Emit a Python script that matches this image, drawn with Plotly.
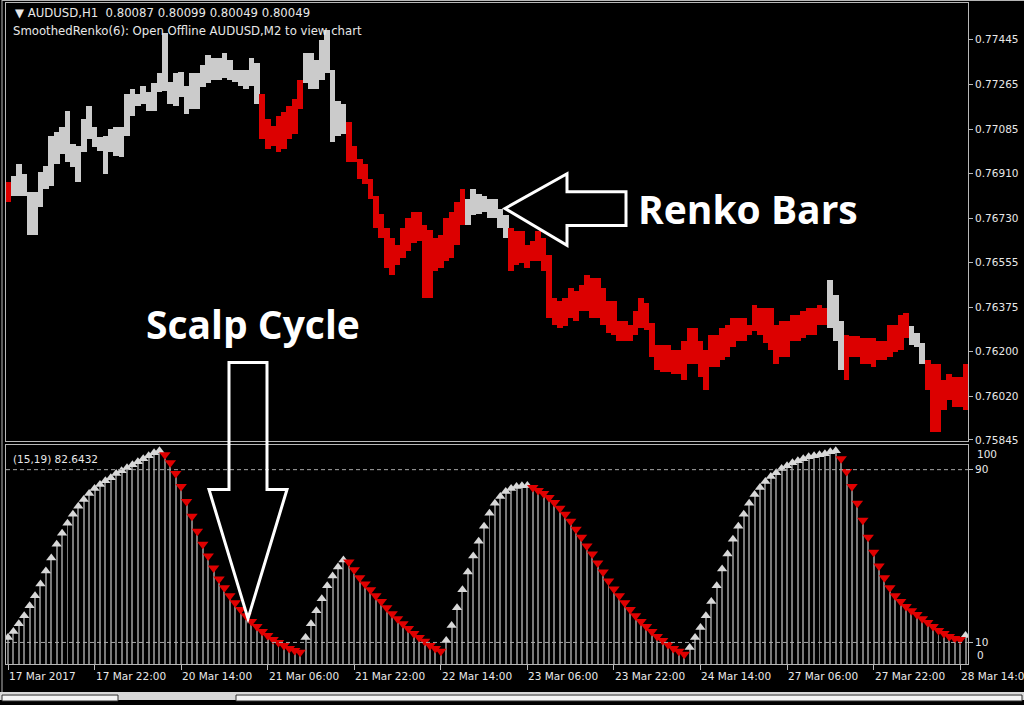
import plotly.graph_objects as go

W, H = 1024, 705

# ---------------- data ----------------
brick_high = [
    0.76878, 0.76901, 0.76949, 0.76909, 0.76838, 0.76838, 0.76917, 0.76941, 0.77060, 0.77076,
    0.77096, 0.77159, 0.77028, 0.77020, 0.77128, 0.77179, 0.77096, 0.77056, 0.77060, 0.77088,
    0.77096, 0.77096, 0.77227, 0.77247, 0.77227, 0.77259, 0.77235, 0.77274, 0.77314, 0.77473,
    0.77278, 0.77314, 0.77318, 0.77259, 0.77314, 0.77314, 0.77346, 0.77386, 0.77374, 0.77374,
    0.77394, 0.77366, 0.77326, 0.77326, 0.77326, 0.77374, 0.77354, 0.77227, 0.77128, 0.77100,
    0.77139, 0.77155, 0.77179, 0.77207, 0.77286, 0.77394, 0.77394, 0.77366, 0.77445, 0.77485,
    0.77326, 0.77199, 0.77187, 0.77116, 0.77020, 0.76969, 0.76949, 0.76889, 0.76822, 0.76750,
    0.76691, 0.76651, 0.76623, 0.76691, 0.76731, 0.76758, 0.76758, 0.76703, 0.76683, 0.76651,
    0.76663, 0.76731, 0.76758, 0.76798, 0.76850, 0.76810, 0.76850, 0.76830, 0.76822, 0.76810,
    0.76810, 0.76770, 0.76743, 0.76691, 0.76679, 0.76679, 0.76623, 0.76639, 0.76679, 0.76651,
    0.76584, 0.76413, 0.76401, 0.76413, 0.76453, 0.76441, 0.76465, 0.76504, 0.76492, 0.76492,
    0.76453, 0.76401, 0.76401, 0.76322, 0.76322, 0.76306, 0.76361, 0.76413, 0.76393, 0.76314,
    0.76226, 0.76226, 0.76226, 0.76203, 0.76203, 0.76242, 0.76294, 0.76294, 0.76242, 0.76203,
    0.76266, 0.76266, 0.76294, 0.76306, 0.76334, 0.76334, 0.76334, 0.76306, 0.76385, 0.76373,
    0.76373, 0.76373, 0.76306, 0.76322, 0.76322, 0.76346, 0.76346, 0.76361, 0.76373, 0.76373,
    0.76385, 0.76373, 0.76485, 0.76425, 0.76322, 0.76266, 0.76262, 0.76262, 0.76254, 0.76254,
    0.76254, 0.76242, 0.76242, 0.76306, 0.76306, 0.76346, 0.76353, 0.76302, 0.76274, 0.76234,
    0.76163, 0.76147, 0.76147, 0.76084, 0.76107, 0.76095, 0.76095, 0.76147,
]
brick_low = [
    0.76798, 0.76822, 0.76822, 0.76822, 0.76663, 0.76663, 0.76778, 0.76850, 0.76862, 0.76949,
    0.76989, 0.76957, 0.76937, 0.76878, 0.76997, 0.77048, 0.77016, 0.77001, 0.76909, 0.76997,
    0.76981, 0.76977, 0.77060, 0.77139, 0.77179, 0.77187, 0.77159, 0.77159, 0.77235, 0.77239,
    0.77187, 0.77179, 0.77215, 0.77147, 0.77167, 0.77167, 0.77255, 0.77274, 0.77286, 0.77286,
    0.77294, 0.77286, 0.77278, 0.77259, 0.77247, 0.77259, 0.77187, 0.77048, 0.77009, 0.77020,
    0.76997, 0.77009, 0.77048, 0.77068, 0.77167, 0.77274, 0.77247, 0.77247, 0.77286, 0.77314,
    0.77036, 0.77060, 0.77068, 0.76957, 0.76957, 0.76889, 0.76870, 0.76810, 0.76691, 0.76651,
    0.76532, 0.76504, 0.76544, 0.76572, 0.76600, 0.76631, 0.76639, 0.76413, 0.76413, 0.76520,
    0.76532, 0.76560, 0.76572, 0.76623, 0.76703, 0.76703, 0.76743, 0.76750, 0.76758, 0.76731,
    0.76731, 0.76691, 0.76651, 0.76520, 0.76544, 0.76552, 0.76532, 0.76560, 0.76560, 0.76520,
    0.76334, 0.76306, 0.76294, 0.76302, 0.76334, 0.76322, 0.76361, 0.76361, 0.76334, 0.76334,
    0.76306, 0.76274, 0.76266, 0.76242, 0.76242, 0.76242, 0.76266, 0.76294, 0.76286, 0.76175,
    0.76123, 0.76115, 0.76115, 0.76107, 0.76107, 0.76084, 0.76147, 0.76147, 0.76095, 0.76044,
    0.76135, 0.76135, 0.76163, 0.76175, 0.76215, 0.76242, 0.76242, 0.76266, 0.76282, 0.76266,
    0.76234, 0.76203, 0.76147, 0.76175, 0.76175, 0.76242, 0.76242, 0.76254, 0.76266, 0.76266,
    0.76306, 0.76306, 0.76294, 0.76242, 0.76123, 0.76084, 0.76175, 0.76175, 0.76147, 0.76147,
    0.76135, 0.76163, 0.76163, 0.76175, 0.76195, 0.76203, 0.76254, 0.76226, 0.76215, 0.76147,
    0.76044, 0.75877, 0.75877, 0.75964, 0.76004, 0.75976, 0.75976, 0.75964,
]
# trend of each brick column: G = up (grey), R = down (red), as runs
brick_runs = [("R", 1), ("G", 46), ("R", 8), ("G", 8), ("R", 22), ("G", 8),
              ("R", 59), ("G", 3), ("R", 12), ("G", 3), ("R", 8)]

scalp = [
    12.3, 15.1, 18.7, 22.4, 27.0, 31.6, 37.1, 43.1, 49.1, 55.5,
    60.6, 65.2, 69.3, 73.0, 76.2, 79.0, 81.3, 83.1, 84.9, 86.3,
    88.2, 89.5, 90.9, 92.3, 93.7, 95.1, 96.4, 97.8, 98.7, 96.9,
    93.2, 88.2, 82.2, 75.3, 68.4, 61.5, 55.5, 50.0, 44.5, 39.4,
    35.3, 31.6, 28.4, 25.2, 22.4, 19.7, 17.4, 15.1, 13.2, 11.4,
    10.0, 8.6, 7.2, 6.3, 5.4, 12.3, 18.7, 24.7, 30.2, 36.2,
    40.8, 44.9, 48.2, 47.2, 43.6, 39.9, 37.1, 34.4, 31.6, 28.9,
    26.1, 23.3, 21.0, 18.7, 16.4, 14.1, 12.3, 10.5, 8.6, 7.2,
    5.9, 10.9, 17.8, 26.1, 34.4, 42.6, 50.0, 56.9, 63.8, 69.8,
    74.4, 77.6, 79.9, 81.3, 82.2, 82.6, 82.7, 81.7, 80.3, 79.0,
    77.1, 74.8, 72.1, 69.3, 66.1, 62.4, 58.7, 54.6, 50.9, 46.8,
    42.6, 38.5, 34.8, 31.6, 28.4, 25.2, 22.4, 19.7, 17.4, 15.1,
    12.8, 10.9, 9.1, 7.2, 5.9, 4.5, 7.7, 12.3, 16.9, 22.4,
    28.9, 36.2, 44.0, 50.9, 57.8, 63.8, 69.3, 74.4, 78.5, 81.7,
    84.5, 86.8, 88.6, 90.5, 91.8, 93.2, 94.1, 95.1, 96.0, 96.4,
    96.9, 97.4, 98.3, 98.7, 95.1, 89.1, 82.2, 74.4, 66.6, 58.7,
    51.8, 45.4, 39.9, 35.3, 31.6, 28.9, 26.6, 24.7, 22.9, 21.0,
    19.2, 17.4, 15.5, 14.1, 12.8, 11.8, 11.4, 13.2,
]

price_ticks = [0.77445, 0.77265, 0.77085, 0.76910, 0.76730, 0.76555, 0.76375, 0.76200, 0.76020, 0.75845]
time_tick_idx = [0, 16, 32, 48, 64, 80, 96, 112, 128, 144, 160, 176]
time_tick_text = ["17 Mar 2017", "17 Mar 22:00", "20 Mar 14:00", "21 Mar 06:00", "21 Mar 22:00",
                  "22 Mar 14:00", "23 Mar 06:00", "23 Mar 22:00", "24 Mar 14:00", "27 Mar 06:00",
                  "27 Mar 22:00", "28 Mar 14:00"]
levels = [10, 90]

# ---------------- helpers ----------------
def px(x):
    return x / W

def py(y):
    return 1 - y / H

GREY = "#cbcbcb"
RED = "#dc0000"
FRAME = "#b8b8b8"
TXT = "#e8e8e8"
FONT = "DejaVu Sans"

n = len(brick_high)
xs = list(range(n))
brick_dir = []
for d, k in brick_runs:
    brick_dir += [d] * k
brick_col = [GREY if d == "G" else RED for d in brick_dir]

fig = go.Figure()

# Renko brick columns (top panel)
fig.add_trace(go.Bar(
    x=xs, y=[h - l for h, l in zip(brick_high, brick_low)], base=brick_low,
    width=1.06, marker=dict(color=brick_col, line=dict(width=0)),
    xaxis="x2", yaxis="y", hoverinfo="skip"))

# Oscillator histogram lines
fig.add_trace(go.Bar(
    x=xs, y=scalp, width=0.18, marker=dict(color="#7a7a7a", line=dict(width=0)),
    xaxis="x", yaxis="y2", hoverinfo="skip"))

up_x, up_y, dn_x, dn_y = [], [], [], []
for i, v in enumerate(scalp):
    if i == 0 or v > scalp[i - 1]:
        up_x.append(i); up_y.append(v)
    else:
        dn_x.append(i); dn_y.append(v)

fig.add_trace(go.Scatter(x=up_x, y=up_y, mode="markers", xaxis="x", yaxis="y2",
                         marker=dict(symbol="triangle-up", size=9, color="#d8d8d8",
                                     line=dict(width=0)), hoverinfo="skip"))
fig.add_trace(go.Scatter(x=dn_x, y=dn_y, mode="markers", xaxis="x", yaxis="y2",
                         marker=dict(symbol="triangle-down", size=10, color="#e00000",
                                     line=dict(width=0)), hoverinfo="skip"))

xd = [px(6), px(968)]
xr = [-0.37, 177.45]

fig.update_layout(
    width=W, height=H, margin=dict(l=0, r=0, t=0, b=0),
    paper_bgcolor="black", plot_bgcolor="black", showlegend=False, bargap=0,
    xaxis=dict(domain=xd, range=xr, anchor="y2", showgrid=False, zeroline=False,
               showline=True, mirror=True, linecolor=FRAME, linewidth=1,
               tickvals=time_tick_idx, ticks="outside", ticklen=5, tickcolor=FRAME,
               showticklabels=False, fixedrange=True),
    xaxis2=dict(domain=xd, range=xr, anchor="y", showgrid=False, zeroline=False,
                showline=True, mirror=True, linecolor=FRAME, linewidth=1,
                showticklabels=False, ticks="", fixedrange=True),
    yaxis=dict(domain=[py(444), py(3)], range=[0.75841, 0.77592], side="right",
               anchor="x2", showgrid=False, zeroline=False, showline=True, mirror=True,
               linecolor=FRAME, linewidth=1, tickvals=price_ticks,
               ticktext=[f"{t:.5f}" for t in price_ticks], ticks="outside", ticklen=4,
               tickcolor=FRAME, tickfont=dict(family=FONT, size=10.5, color=TXT)),
    yaxis2=dict(domain=[py(669), py(448)], range=[-0.1, 101.5], side="right",
                anchor="x", showgrid=False, zeroline=False, showline=True, mirror=True,
                linecolor=FRAME, linewidth=1, tickvals=levels,
                ticktext=[str(v) for v in levels], ticks="outside", ticklen=4,
                tickcolor=FRAME, tickfont=dict(family=FONT, size=10.5, color=TXT)),
)

shapes = []
for lv in levels:
    shapes.append(dict(type="line", xref="paper", yref="y2", x0=xd[0], x1=xd[1], y0=lv, y1=lv,
                       line=dict(color="#a8a8a8", width=1, dash="4px,3px")))

# outer frame lines
shapes.append(dict(type="line", xref="paper", yref="paper", x0=px(2), x1=px(2), y0=py(697), y1=py(0),
                   line=dict(color=FRAME, width=1)))
shapes.append(dict(type="line", xref="paper", yref="paper", x0=px(2), x1=px(1024), y0=py(0.5), y1=py(0.5),
                   line=dict(color=FRAME, width=1)))

# bottom status strip
shapes.append(dict(type="rect", xref="paper", yref="paper", x0=0, x1=1, y0=0, y1=py(697),
                   fillcolor="#d8d8d8", line=dict(width=0)))
shapes.append(dict(type="rect", xref="paper", yref="paper", x0=px(2), x1=px(118), y0=py(706), y1=py(700),
                   fillcolor="#f4f4f4", line=dict(color="#303030", width=1)))
shapes.append(dict(type="rect", xref="paper", yref="paper", x0=px(236), x1=px(1022), y0=py(706), y1=py(700),
                   fillcolor="#f4f4f4", line=dict(color="#303030", width=1)))

# hollow arrows (annotation graphics)
def poly(points):
    return "M " + " L ".join(f"{px(a):.5f},{py(b):.5f}" for a, b in points) + " Z"

left_arrow = [(505, 210), (567, 175), (567, 193), (626, 193), (626, 227), (567, 227), (567, 247)]
down_arrow = [(229, 365), (267, 365), (267, 493), (287, 493), (248, 623), (209, 493), (229, 493)]
for pts in (left_arrow, down_arrow):
    shapes.append(dict(type="path", xref="paper", yref="paper", path=poly(pts),
                       line=dict(color="white", width=3), fillcolor="rgba(0,0,0,0)"))
fig.update_layout(shapes=shapes)

ann = []
for idx, txt in zip(time_tick_idx, time_tick_text):
    ann.append(dict(x=idx, xref="x", y=py(681), yref="paper", text=txt, showarrow=False,
                    xanchor="left", yanchor="middle", xshift=-1,
                    font=dict(family=FONT, size=10.5, color=TXT)))
ann.append(dict(x=px(975), y=py(457), xref="paper", yref="paper", text="100", showarrow=False,
                xanchor="left", yanchor="middle", font=dict(family=FONT, size=10.5, color=TXT)))
ann.append(dict(x=px(975), y=py(660), xref="paper", yref="paper", text="0", showarrow=False,
                xanchor="left", yanchor="middle", font=dict(family=FONT, size=10.5, color=TXT)))
ann.append(dict(x=px(13), y=py(13), xref="paper", yref="paper",
                text="\u25bc AUDUSD,H1  0.80087 0.80099 0.80049 0.80049", showarrow=False,
                xanchor="left", yanchor="middle", font=dict(family=FONT, size=11.7, color=TXT)))
ann.append(dict(x=px(11), y=py(31), xref="paper", yref="paper",
                text="SmoothedRenko(6): Open Offline AUDUSD,M2 to view chart", showarrow=False,
                xanchor="left", yanchor="middle", font=dict(family=FONT, size=11.7, color=TXT)))
ann.append(dict(x=px(11), y=py(462), xref="paper", yref="paper",
                text="(15,19) 82.6432", showarrow=False,
                xanchor="left", yanchor="middle", font=dict(family=FONT, size=10.5, color=TXT)))
ann.append(dict(x=px(748), y=py(210), xref="paper", yref="paper", text="<b>Renko Bars</b>",
                showarrow=False, xanchor="center", yanchor="middle",
                font=dict(family="Open Sans", size=39, color="white")))
ann.append(dict(x=px(253), y=py(326), xref="paper", yref="paper", text="<b>Scalp Cycle</b>",
                showarrow=False, xanchor="center", yanchor="middle",
                font=dict(family="Open Sans", size=39, color="white")))
fig.update_layout(annotations=ann)

fig.write_html("out.html", config={"displayModeBar": False},
               post_script="document.body.style.margin='0px';document.body.style.overflow='hidden';")
